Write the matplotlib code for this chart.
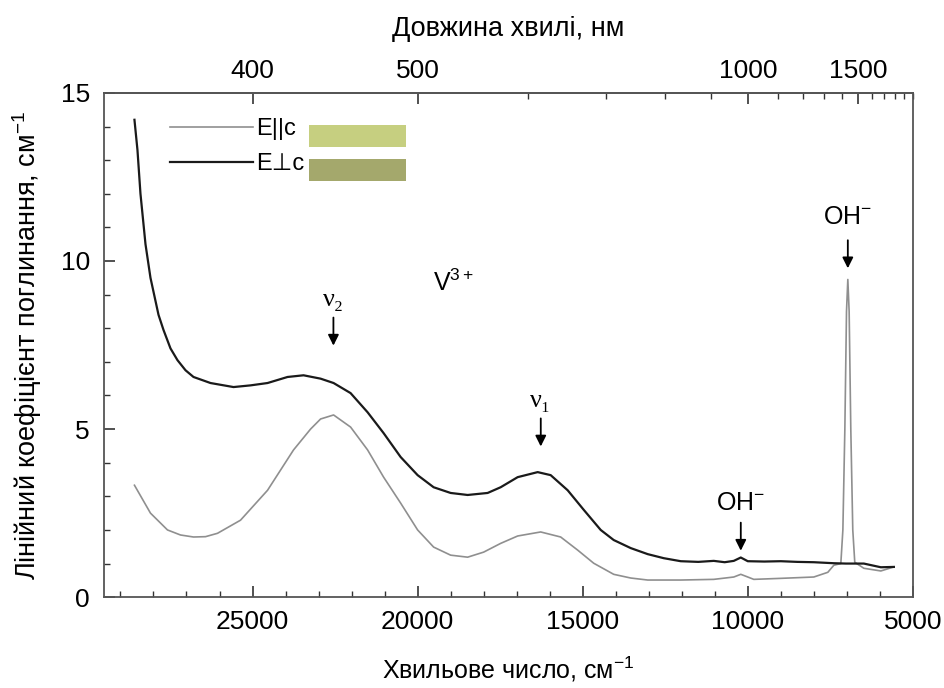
import numpy as np
import matplotlib
matplotlib.use('Agg')
import matplotlib.pyplot as plt
from matplotlib.patches import Rectangle

plt.rcParams['font.family'] = ['Liberation Sans', 'DejaVu Sans']
plt.rcParams['mathtext.fontset'] = 'custom'
plt.rcParams['mathtext.rm'] = 'Liberation Sans'
plt.rcParams['mathtext.it'] = 'Liberation Sans'

# E perpendicular c (black)
wn_perp = [28576, 28485, 28394, 28242, 28091, 27848, 27697, 27485, 27273, 27030,
           26788, 26273, 25576, 25061, 24545, 23939, 23455, 22939, 22545, 22030,
           21515, 21030, 20515, 20000, 19515, 19000, 18485, 17879, 17485, 16970,
           16364, 15970, 15455, 14970, 14455, 14061, 13545, 13030, 12545, 12030,
           11500, 11030, 10700, 10424, 10212, 10000, 9500, 9000, 8500, 8000,
           7394, 7030, 6485, 5970, 5576]
k_perp = [14.2, 13.3, 12.0, 10.5, 9.5, 8.4, 7.95, 7.4, 7.05, 6.75,
          6.55, 6.37, 6.25, 6.3, 6.37, 6.55, 6.6, 6.5, 6.37, 6.07,
          5.5, 4.88, 4.17, 3.63, 3.27, 3.1, 3.04, 3.1, 3.27, 3.57,
          3.72, 3.63, 3.18, 2.6, 2.0, 1.7, 1.46, 1.28, 1.16, 1.07,
          1.05, 1.08, 1.04, 1.08, 1.18, 1.07, 1.06, 1.07, 1.05, 1.04,
          1.01, 1.0, 1.0, 0.89, 0.9]

# E parallel c (grey)
wn_par = [28576, 28091, 27576, 27182, 26788, 26424, 26061, 25364, 24545, 23758,
          23242, 22939, 22545, 22030, 21515, 21030, 20515, 20000, 19515, 19000,
          18485, 18000, 17485, 16970, 16273, 15667, 15152, 14667, 14061, 13545,
          13030, 12030, 11030, 10424, 10212, 10000, 9818, 9000, 8000, 7576,
          7394, 7182, 7120, 7060, 7010, 6970, 6930, 6880, 6820, 6760,
          6485, 5970, 5576]
k_par = [3.33, 2.5, 2.0, 1.85, 1.79, 1.8, 1.9, 2.29, 3.18, 4.38,
         5.0, 5.3, 5.42, 5.06, 4.38, 3.57, 2.8, 2.0, 1.49, 1.25,
         1.19, 1.34, 1.6, 1.82, 1.94, 1.79, 1.4, 1.01, 0.68, 0.57,
         0.51, 0.51, 0.53, 0.6, 0.68, 0.6, 0.53, 0.56, 0.6, 0.74,
         0.95, 1.0, 2.0, 5.0, 8.5, 9.45, 8.5, 5.0, 2.0, 1.04,
         0.86, 0.78, 0.9]

series_labels = ['E||c', 'E⊥c']
swatch_colors = ['#c6cf80', '#a4a86c']

top_major = [400, 500, 1000, 1500]
top_minor = [600, 700, 800, 900, 1100, 1200, 1300, 1400, 1600, 1700, 1800, 1900, 2000]

fig = plt.figure(figsize=(9.45, 6.88), dpi=100)
ax = fig.add_axes([0.110, 0.132, 0.856, 0.733])

ax.plot(wn_par, k_par, color='#8f8f8f', lw=1.2, label=series_labels[0])
ax.plot(wn_perp, k_perp, color='#1a1a1a', lw=1.6, label=series_labels[1])

ax.set_xlim(29500, 5000)
ax.set_ylim(0, 15)
ax.set_xticks([25000, 20000, 15000, 10000, 5000])
ax.set_xticks(np.arange(6000, 29001, 1000), minor=True)
ax.set_yticks([0, 5, 10, 15])
ax.set_yticks(np.arange(0, 15, 1), minor=True)

for s in ax.spines.values():
    s.set_color('#555555')
    s.set_linewidth(1.3)
ax.tick_params(which='both', direction='in', right=False, top=False,
               labelsize=19, color='#333333')
ax.tick_params(which='major', length=8, width=1.2)
ax.tick_params(which='minor', length=4, width=1.0)
ax.tick_params(axis='x', pad=9)
ax.tick_params(axis='y', pad=10)

ax.set_xlabel('Хвильове число, см$^{-1}$', fontsize=18, labelpad=15)
ax.set_ylabel('Лінійний коефіцієнт поглинання, см$^{-1}$', fontsize=19.5, labelpad=12)

# top wavelength axis
sec = ax.secondary_xaxis('top', functions=(lambda x: 1e7 / x, lambda x: 1e7 / x))
sec.set_xticks(top_major)
sec.set_xticks(top_minor, minor=True)
sec.set_xticklabels([str(v) for v in top_major])
sec.tick_params(which='both', direction='in', labelsize=19, color='#333333')
sec.tick_params(which='major', length=8, width=1.2, pad=7)
sec.tick_params(which='minor', length=4, width=1.0)
sec.spines['top'].set_color('#555555')
sec.spines['top'].set_linewidth(1.3)
sec.set_xlabel('Довжина хвилі, нм', fontsize=19.5, labelpad=17)

# legend with colour swatches
leg = ax.legend(loc='upper left', bbox_to_anchor=(0.082, 0.950), frameon=False,
                fontsize=17, handlelength=3.5, handletextpad=0.15,
                borderpad=0, borderaxespad=0, labelspacing=0.55)
for i, c in enumerate(swatch_colors):
    ax.add_patch(Rectangle((0.254, 0.893 - i * 0.068), 0.12, 0.044,
                           transform=ax.transAxes, color=c, lw=0))

# annotations
arrow = dict(arrowstyle='-|>', color='black', lw=1.3, mutation_scale=16)
ax.annotate('', xy=(22550, 7.4), xytext=(22550, 8.4), arrowprops=arrow)
ax.text(22550, 8.85, 'ν₂', fontsize=19, ha='center', va='center',
        family=['Liberation Serif', 'DejaVu Serif'])
ax.annotate('', xy=(16270, 4.4), xytext=(16270, 5.4), arrowprops=arrow)
ax.text(16270, 5.85, 'ν₁', fontsize=19, ha='center', va='center',
        family=['Liberation Serif', 'DejaVu Serif'])
ax.text(18900, 9.35, 'V$^{3+}$', fontsize=18, ha='center', va='center')
ax.annotate('', xy=(10212, 1.3), xytext=(10212, 2.3), arrowprops=arrow)
ax.text(10212, 2.8, 'OH$^{-}$', fontsize=18, ha='center', va='center')
ax.annotate('', xy=(6970, 9.7), xytext=(6970, 10.7), arrowprops=arrow)
ax.text(6970, 11.3, 'OH$^{-}$', fontsize=18, ha='center', va='center')

fig.savefig('out.png', dpi=100)
